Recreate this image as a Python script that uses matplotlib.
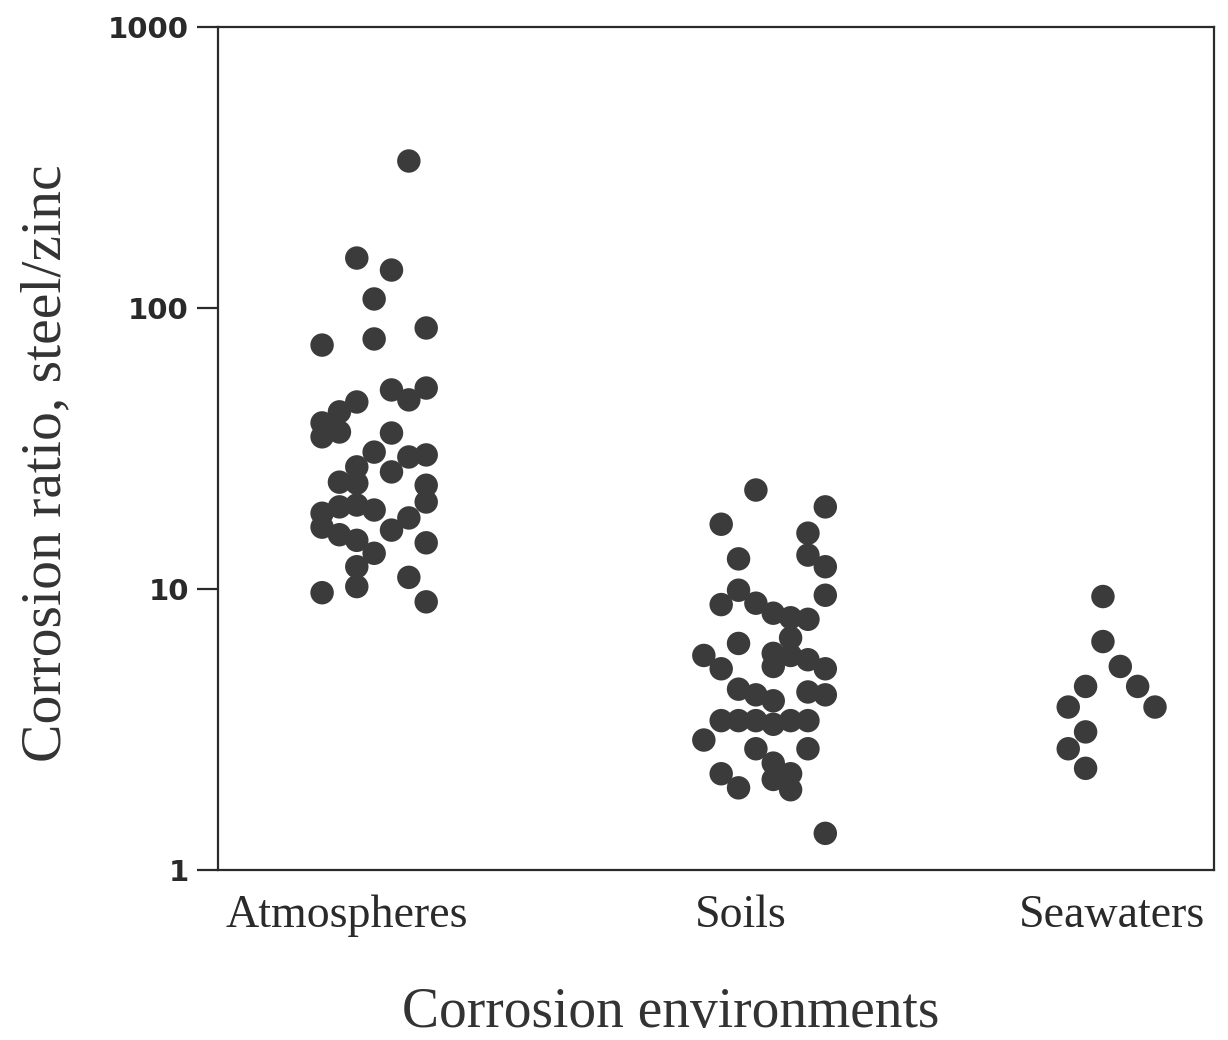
import matplotlib
matplotlib.use("Agg")
import matplotlib.pyplot as plt
import numpy as np


# ------------------------------------------------------------
# DATA (x = swarm column, y = ratio)
# ------------------------------------------------------------

categories = ["Atmospheres", "Soils", "Seawaters"]
category_pos = [7.4, 30.1, 51.5]

atmos_col = ([6] * 6 + [7] * 5 + [8] * 8 + [9] * 5 + [10] * 5 + [11] * 5 + [12] * 7)
atmos_val = [73.8, 39.0, 34.8, 18.6, 16.6, 9.7,
             42.7, 36.2, 24.0, 19.6, 15.6,
             150.6, 46.3, 27.2, 23.8, 19.9, 14.9, 12.0, 10.2,
             107.7, 77.6, 30.7, 19.1, 13.4,
             136.5, 51.1, 35.9, 26.1, 16.2,
             333.6, 47.1, 29.5, 17.9, 11.0,
             84.9, 51.9, 30.0, 23.4, 20.4, 14.6, 9.0]

soils_col = ([28] * 2 + [29] * 5 + [30] * 6 + [31] * 5 + [32] * 7 + [33] * 6 + [34] * 7 + [35] * 6)
soils_val = [5.8, 2.9,
             17.0, 8.8, 5.2, 3.4, 2.2,
             12.8, 9.9, 6.4, 4.4, 3.4, 1.96,
             22.5, 8.9, 4.2, 3.4, 2.7,
             8.2, 5.9, 5.3, 4.0, 3.3, 2.4, 2.1,
             7.9, 6.7, 5.8, 3.4, 2.2, 1.93,
             15.8, 13.2, 7.8, 5.6, 4.3, 3.4, 2.7,
             19.6, 12.0, 9.5, 5.2, 4.2, 1.35]

sea_col = [49, 49, 50, 50, 50, 51, 51, 52, 53, 54]
sea_val = [3.8, 2.7, 4.5, 3.1, 2.3, 9.4, 6.5, 5.3, 4.5, 3.8]

y_ticks = [1, 10, 100, 1000]


# ------------------------------------------------------------
# PLOTTING
# ------------------------------------------------------------

fig = plt.figure(figsize=(12.28, 10.40), dpi=100)
ax = fig.add_axes([0.1775, 0.1635, 0.8111, 0.8105])

dot = "#3b3b3b"
for cols, vals in [(atmos_col, atmos_val), (soils_col, soils_val), (sea_col, sea_val)]:
    ax.scatter(cols, vals, s=285, color=dot, edgecolors="none", zorder=3)

ax.set_yscale("log")
ax.set_ylim(1, 1000)
ax.set_xlim(0, 57.4)
ax.set_yticks(y_ticks)
ax.set_yticklabels([str(t) for t in y_ticks])
ax.yaxis.set_minor_locator(matplotlib.ticker.NullLocator())

ax.set_xticks(category_pos)
ax.set_xticklabels(categories, family="Liberation Serif", fontsize=33)
ax.tick_params(axis="x", length=0, pad=18, colors="#2a2a2a")
ax.tick_params(axis="y", length=15, width=1.6, direction="out", pad=6,
               labelsize=21, colors="#2a2a2a")
for lab in ax.get_yticklabels():
    lab.set_fontweight("bold")
    lab.set_family("DejaVu Sans")

for sp in ax.spines.values():
    sp.set_linewidth(1.6)
    sp.set_color("#2a2a2a")

ax.set_ylabel("Corrosion ratio, steel/zinc", family="Liberation Serif",
              fontsize=41.5, color="#333333")
ax.yaxis.set_label_coords(-0.146, 0.483)
ax.set_xlabel("Corrosion environments", family="Liberation Serif",
              fontsize=40, color="#333333")
ax.xaxis.set_label_coords(0.455, -0.139)

fig.savefig("out.png", dpi=100, facecolor="white")
